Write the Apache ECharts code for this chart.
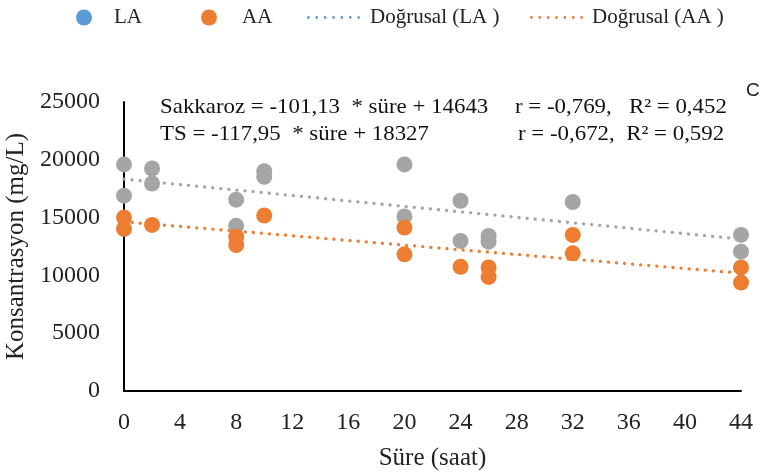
<!DOCTYPE html>
<html>
<head>
<meta charset="utf-8">
<script src="https://cdn.jsdelivr.net/npm/echarts@6/dist/echarts.min.js"></script>
<style>
  html, body { margin: 0; padding: 0; background: #fff; }
  #chart { width: 764px; height: 475px; }
</style>
</head>
<body>
<div id="chart"></div>
<script>
// Sampling times (hours) and measured concentrations (mg/L)
const laHours = [0, 0, 2, 2, 8, 8, 10, 10, 20, 20, 24, 24, 26, 26, 32, 44, 44];
const laValues = [19600, 16900, 19250, 17950, 16550, 14290, 19015, 18530, 19600, 15100, 16460, 12980, 13415, 12920, 16350, 13500, 12050];

const aaHours = [0, 0, 2, 8, 8, 10, 20, 20, 24, 26, 26, 32, 32, 44, 44];
const aaValues = [15010, 14025, 14370, 13350, 12630, 15180, 14140, 11820, 10740, 10690, 9870, 13500, 11910, 10690, 9380];

// Linear fits: [slope, intercept]
const tsFit = [-117.95, 18327];
const sakkarozFit = [-101.13, 14643];
const fitRange = [0, 44];

const xTicks = [0, 4, 8, 12, 16, 20, 24, 28, 32, 36, 40, 44];
const yTicks = [0, 5000, 10000, 15000, 20000, 25000];

const equationLines = [
  ['Sakkaroz = -101,13  * süre + 14643', 'r = -0,769,   R\u00B2 = 0,452'],
  ['TS = -117,95  * süre + 18327', 'r = -0,672,  R\u00B2 = 0,592']
];

const GRAY = '#A5A5A5';
const ORANGE = '#ED7D31';
const BLUE = '#5B9BD5';
const FONT = 'Liberation Serif';

const zip = (xs, ys) => xs.map((x, i) => [x, ys[i]]);
const fitLine = (fit) => fitRange.map(x => [x, fit[0] * x + fit[1]]);

const dotted = { width: 3.3, type: [0.1, 8], cap: 'round' };

// Legend glyph for the trend lines: a row of small round dots
function dotRowPath(count, r, step) {
  let d = '';
  for (let i = 0; i < count; i++) {
    const cx = r + i * step;
    d += 'M' + (cx - r) + ' ' + r + 'a' + r + ' ' + r + ' 0 1 0 ' + (2 * r) + ' 0' +
         'a' + r + ' ' + r + ' 0 1 0 ' + (-2 * r) + ' 0Z';
  }
  return 'path://' + d;
}
const DOT_ROW = dotRowPath(7, 1.4, 8.5);

function legendItem(left, name, icon, color, textPad, w, h) {
  return {
    left: left, top: 7, orient: 'horizontal', padding: 0,
    itemWidth: w, itemHeight: h, selectedMode: false,
    textStyle: { fontFamily: FONT, fontSize: 21, color: '#222', padding: [0, 0, 0, textPad] },
    data: [{ name: name, icon: icon, itemStyle: { color: color, opacity: 1 } }]
  };
}

const labelFont = (size) => size + 'px "' + FONT + '"';

function equationText(left, top, text) {
  return {
    type: 'text', x: left, y: top, scaleX: 1.04,
    style: { text: text, font: labelFont(22), fill: '#111' }
  };
}

const chart = echarts.init(document.getElementById('chart'), null, { renderer: 'canvas' });

chart.setOption({
  animation: false,
  backgroundColor: '#fff',
  legend: [
    legendItem(76, 'LA', 'circle', BLUE, 0, 50, 16),
    legendItem(201, 'AA', 'circle', ORANGE, 3, 50, 16),
    legendItem(307, 'Doğrusal (LA )', DOT_ROW, BLUE, 5, 53, 3),
    legendItem(530, 'Doğrusal (AA )', DOT_ROW, ORANGE, 4, 53, 3)
  ],
  grid: { left: 124, right: 23, top: 102, bottom: 84, outerBoundsMode: 'none', containLabel: false },
  xAxis: {
    type: 'value', min: 0, max: 44, interval: 4,
    name: 'Süre (saat)', nameLocation: 'middle', nameGap: 55,
    nameTextStyle: { fontFamily: FONT, fontSize: 25, color: '#222' },
    axisLine: { lineStyle: { color: '#000', width: 2 } },
    axisTick: { show: false },
    splitLine: { show: false },
    axisLabel: { fontFamily: FONT, fontSize: 24, color: '#222', margin: 20,
      formatter: v => xTicks.includes(v) ? String(v) : '' }
  },
  yAxis: {
    type: 'value', min: 0, max: 25000, interval: 5000,
    name: 'Konsantrasyon (mg/L)', nameLocation: 'middle', nameGap: 89,
    nameTextStyle: { fontFamily: FONT, fontSize: 25, color: '#222' },
    axisLine: { show: true, lineStyle: { color: '#000', width: 2 } },
    axisTick: { show: false },
    splitLine: { show: false },
    axisLabel: { fontFamily: FONT, fontSize: 24, color: '#222', margin: 24,
      formatter: v => yTicks.includes(v) ? String(v) : '' }
  },
  series: [
    {
      name: 'Doğrusal (LA )', type: 'line', data: fitLine(tsFit),
      showSymbol: false, symbol: 'none', z: 1,
      lineStyle: Object.assign({ color: GRAY }, dotted), itemStyle: { color: GRAY }
    },
    {
      name: 'Doğrusal (AA )', type: 'line', data: fitLine(sakkarozFit),
      showSymbol: false, symbol: 'none', z: 1,
      lineStyle: Object.assign({ color: ORANGE }, dotted), itemStyle: { color: ORANGE }
    },
    {
      name: 'LA', type: 'scatter', data: zip(laHours, laValues),
      symbolSize: 16, z: 3, itemStyle: { color: GRAY, opacity: 1 }
    },
    {
      name: 'AA', type: 'scatter', data: zip(aaHours, aaValues),
      symbolSize: 16, z: 4, itemStyle: { color: ORANGE, opacity: 1 }
    }
  ],
  graphic: [
    equationText(160, 96, equationLines[0][0]),
    equationText(515, 96, equationLines[0][1]),
    equationText(160, 123, equationLines[1][0]),
    equationText(518, 123, equationLines[1][1]),
    { type: 'text', x: 746, y: 81, style: { text: 'C', font: '19px "Liberation Sans"', fill: '#222' } }
  ]
});
</script>
</body>
</html>
